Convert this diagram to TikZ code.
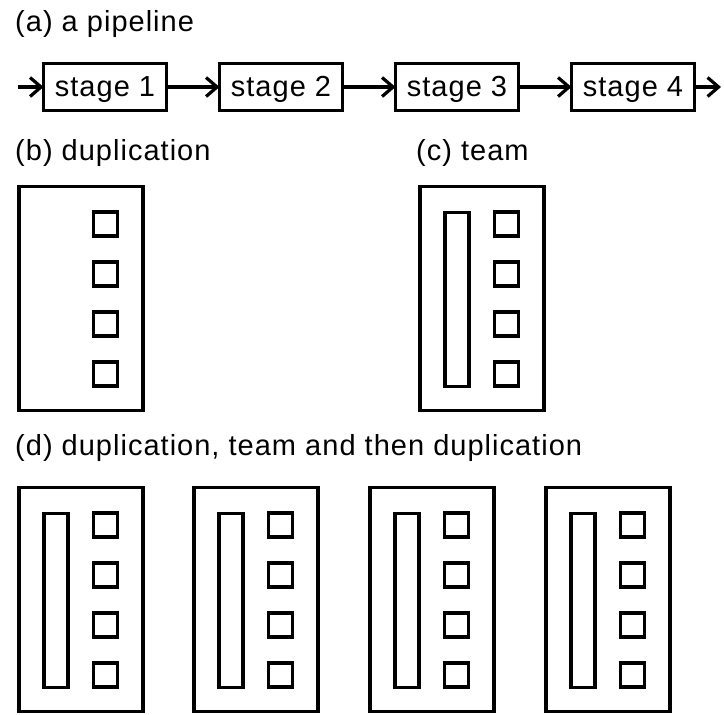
\documentclass[tikz,border=0pt]{standalone}
\usepackage{fontspec}
\setmainfont{Liberation Sans}[LetterSpace=3.5]
\usetikzlibrary{arrows.meta}

\newcommand{\outerbox}[3]{%
  \node[box, minimum width=124.5pt, minimum height=224pt] (#1) at (#2+64, #3+113.5) {};}
\newcommand{\sqcolumn}[3]{%
  \foreach \k in {1,...,4} {\node[box, minimum size=24pt] (#1-s\k) at (#2+88.5, #3-11+50*\k) {};}}
\newcommand{\tallbar}[3]{%
  \node[box, minimum width=24.5pt, minimum height=174pt] (#1-bar) at (#2+39, #3+114.5) {};}

\begin{document}
\begin{tikzpicture}[x=1pt, y=-1pt,
  box/.style={draw, line width=3.6pt, inner sep=0pt, outer sep=0pt},
  stagebox/.style={box, minimum width=123pt, minimum height=47pt,
    text height=21pt, text depth=2pt, font=\fontsize{29}{34}\selectfont},
  link/.style={line width=3.2pt, -{Straight Barb[length=11pt,width=19pt]}},
  caption/.style={anchor=base west, inner sep=0pt, font=\fontsize{29}{34}\selectfont}]
\useasboundingbox (0,0) rectangle (724,715);

% (a) pipeline
\node[caption] (la) at (15,31) {(a) a pipeline};
\node[stagebox] (st1) at (105,87) {stage 1};
\node[stagebox] (st2) at (281,87) {stage 2};
\node[stagebox] (st3) at (457,87) {stage 3};
\node[stagebox] (st4) at (633,87) {stage 4};
\coordinate (in) at (18,87);
\coordinate (out) at (721,87);
\draw[link] (in) -- (st1.west);
\draw[link] (st1.east) -- (st2.west);
\draw[link] (st2.east) -- (st3.west);
\draw[link] (st3.east) -- (st4.west);
\draw[link] (st4.east) -- (out);

% (b) duplication
\node[caption] (lb) at (15,160) {(b) duplication};
\outerbox{b}{17}{185}
\sqcolumn{b}{17}{185}

% (c) team
\node[caption] (lc) at (416,160) {(c) team};
\outerbox{c}{418}{185}
\tallbar{c}{418}{185}
\sqcolumn{c}{418}{185}

% (d) duplication, team and then duplication
\node[caption] (ld) at (15,455) {(d) duplication, team and then duplication};
\foreach \n/\L in {d1/17, d2/192, d3/368, d4/544} {
  \outerbox{\n}{\L}{486}
  \tallbar{\n}{\L}{486}
  \sqcolumn{\n}{\L}{486}
}
\end{tikzpicture}
\end{document}
